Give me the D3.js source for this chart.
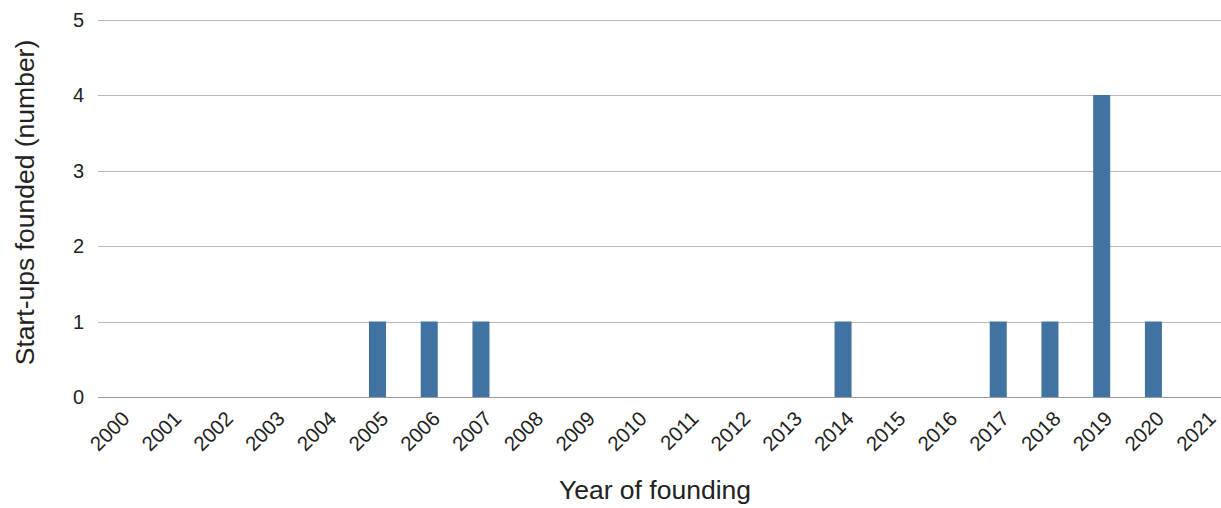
<!DOCTYPE html>
<html><head><meta charset="utf-8">
<script src="https://cdn.jsdelivr.net/npm/d3@7"></script>
<style>body{margin:0;background:#fff;}svg{display:block;font-family:"Liberation Sans",Arial,sans-serif;}</style>
</head><body>
<svg id="c" width="1221" height="508"></svg>
<script>
const years = ["2000","2001","2002","2003","2004","2005","2006","2007","2008","2009","2010","2011","2012","2013","2014","2015","2016","2017","2018","2019","2020","2021"];
const startups = [0,0,0,0,0,1,1,1,0,0,0,0,0,0,1,0,0,1,1,4,1,0];
const yTicks = [0,1,2,3,4,5];

const svg = d3.select("#c");
const plotLeft = 98, plotRight = 1221;
const x = d3.scaleBand().domain(years).range([93.0, 1231]).paddingInner(0.671).paddingOuter(0.3355);
const y = d3.scaleLinear().domain([0,5]).range([397,19.5]);

// gridlines
svg.append("g").selectAll("line").data(yTicks.filter(d=>d>0)).join("line")
  .attr("x1",plotLeft).attr("x2",plotRight)
  .attr("y1",d=>Math.round(y(d))+0.5).attr("y2",d=>Math.round(y(d))+0.5)
  .attr("stroke","#b8b8b8").attr("stroke-width",1);

// y tick labels
svg.append("g").selectAll("text").data(yTicks).join("text")
  .attr("x",78.5).attr("y",d=>y(d)).attr("dy","0.36em")
  .attr("text-anchor","middle").attr("font-size",20).attr("fill","#222")
  .text(d=>d);

// bars
svg.append("g").selectAll("rect").data(years.map((yr,i)=>({yr,v:startups[i]}))).join("rect")
  .attr("x",d=>x(d.yr)).attr("width",x.bandwidth())
  .attr("y",d=>y(d.v)).attr("height",d=>y(0)-y(d.v))
  .attr("fill","#4173a2");

// baseline
svg.append("line").attr("x1",plotLeft).attr("x2",plotRight)
  .attr("y1",397.5).attr("y2",397.5).attr("stroke","#9a9a9a").attr("stroke-width",1.2);

// x tick labels
svg.append("g").selectAll("text").data(years).join("text")
  .attr("transform",d=>`translate(${x(d)+x.bandwidth()/2+12},${420}) rotate(-45)`)
  .attr("text-anchor","end").attr("font-size",20.5).attr("fill","#222")
  .text(d=>d);

// axis titles
svg.append("text").attr("x",655).attr("y",499).attr("text-anchor","middle")
  .attr("font-size",26.5).attr("fill","#222").text("Year of founding");
svg.append("text").attr("transform","translate(34,202.5) rotate(-90)").attr("text-anchor","middle")
  .attr("font-size",26.5).attr("fill","#222").text("Start-ups founded (number)");
</script>
</body></html>
